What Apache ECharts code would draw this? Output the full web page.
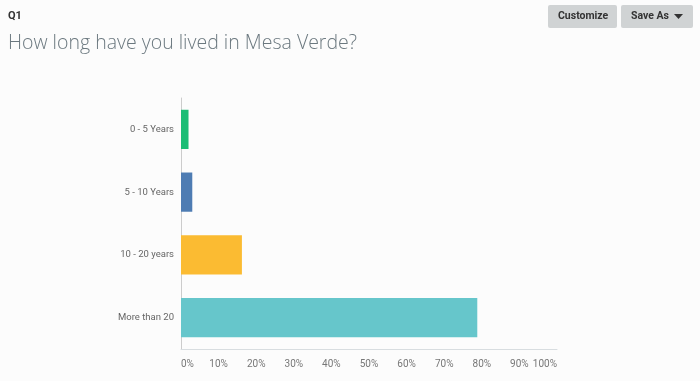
<!DOCTYPE html>
<html>
<head>
<meta charset="utf-8">
<script src="https://cdn.jsdelivr.net/npm/echarts@6/dist/echarts.min.js"></script>
<style>
html,body{margin:0;padding:0;background:#fcfcfc;}
#chart{width:700px;height:381px;}
</style>
</head>
<body>
<div id="chart"></div>
<script>
var categories = ['0 - 5 Years', '5 - 10 Years', '10 - 20 years', 'More than 20'];
var values = [2.0, 3.0, 16.2, 78.8];
var barColors = ['#1bbd75', '#4e7cb3', '#fbbb32', '#66c6cb'];
var tickValues = [0, 10, 20, 30, 40, 50, 60, 70, 80, 90, 100];

var chart = echarts.init(document.getElementById('chart'));
chart.setOption({
  backgroundColor: '#fcfcfc',
  animation: false,
  title: [
    { text: 'Q1', left: 8, top: 11, padding: 0, textStyle: { fontFamily: 'Roboto', fontSize: 11, fontWeight: 'bold', color: '#333' } },
    { text: 'How long have you lived in Mesa Verde?', left: 8, top: 33, padding: 0, textStyle: { fontFamily: 'Open Sans', fontSize: 19.5, fontWeight: 300, color: '#6b787f' } }
  ],
  graphic: [
    { type: 'rect', left: 548, top: 5, shape: { width: 69, height: 23, r: 2 }, style: { fill: '#d0d3d4' } },
    { type: 'text', left: 558, top: 11, style: { text: 'Customize', font: 'bold 10.5px Roboto', fill: '#333' } },
    { type: 'rect', left: 621, top: 5, shape: { width: 72, height: 23, r: 2 }, style: { fill: '#d0d3d4' } },
    { type: 'text', left: 631, top: 11, style: { text: 'Save As', font: 'bold 10.5px Roboto', fill: '#333' } },
    { type: 'polygon', shape: { points: [[674, 14], [683, 14], [678.5, 19]] }, style: { fill: '#333' } }
  ],
  grid: { left: 181, right: 143, top: 98, bottom: 32, containLabel: false },
  xAxis: {
    type: 'value', min: 0, max: 100, interval: 10,
    axisLine: { show: true, lineStyle: { color: '#d8dde0' } },
    axisTick: { show: false },
    splitLine: { show: false },
    axisLabel: {
      formatter: '{value}%', color: '#777', fontSize: 10, fontFamily: 'Roboto', margin: 10,
      alignMinLabel: 'left', alignMaxLabel: 'right'
    }
  },
  yAxis: {
    type: 'category', inverse: true, data: categories,
    axisLine: { show: true, lineStyle: { color: '#ccc' } },
    axisTick: { show: false },
    axisLabel: { color: '#666', fontSize: 9.5, fontFamily: 'Roboto', margin: 7 }
  },
  series: [{
    type: 'bar',
    barCategoryGap: '37.5%',
    data: values.map(function (v, i) { return { value: v, itemStyle: { color: barColors[i] } }; })
  }]
});
</script>
</body>
</html>
